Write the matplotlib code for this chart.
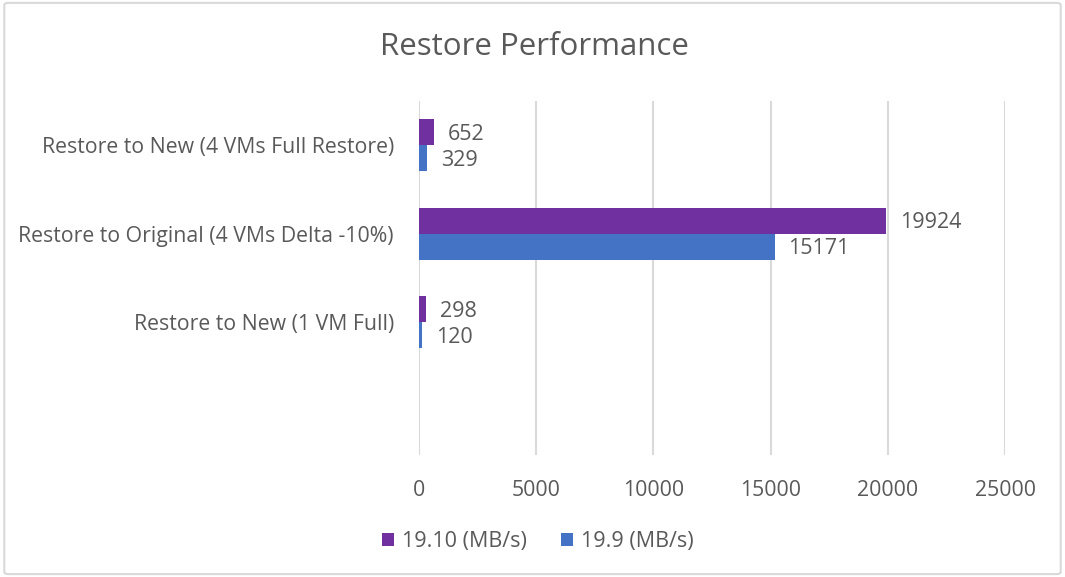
import numpy as np
import matplotlib.pyplot as plt
from matplotlib.patches import FancyBboxPatch

plt.rcParams['font.family'] = ['Open Sans', 'DejaVu Sans']

categories = ["Restore to New (4 VMs Full Restore)",
              "Restore to Original (4 VMs Delta -10%)",
              "Restore to New (1 VM Full)",
              ""]
v1910 = [652, 19924, 298, None]
v199 = [329, 15171, 120, None]
series_names = ["19.10 (MB/s)", "19.9 (MB/s)"]
colors = ["#7030A0", "#4472C4"]
text_col = "#595959"

fig = plt.figure(figsize=(10.65, 5.77), dpi=100)
ax = fig.add_axes([0.3934, 0.2114, 0.5503, 0.6136])

n = len(categories)
y = np.arange(n)[::-1]  # top category first
h = 0.295

for vals, off, col, name in [(v1910, h / 2, colors[0], series_names[0]),
                             (v199, -h / 2, colors[1], series_names[1])]:
    ys = [yy + off for yy, v in zip(y, vals) if v is not None]
    vs = [v for v in vals if v is not None]
    ax.barh(ys, vs, height=h, color=col, label=name, zorder=3)
    for yy, v in zip(ys, vs):
        ax.annotate(str(v), (v, yy), xytext=(10, -1.5), textcoords='offset points',
                    va='center', ha='left', fontsize=15.5, color=text_col)

ax.set_xlim(0, 25000)
ax.set_ylim(-0.5, n - 0.5)
ax.set_xticks(np.arange(0, 25001, 5000))
ax.set_yticks(y)
ax.set_yticklabels(categories)
ax.tick_params(axis='both', length=0, labelsize=15.3, colors=text_col)
ax.tick_params(axis='x', pad=18)
ax.tick_params(axis='y', pad=18)
ax.grid(axis='x', color='#D9D9D9', linewidth=1.5, zorder=0)
for s in ax.spines.values():
    s.set_visible(False)

fig.text(0.5015, 0.918, "Restore Performance", ha='center', va='center',
         fontsize=22.5, color=text_col)

leg = fig.legend(loc='center', bbox_to_anchor=(0.505, 0.062), ncol=2, frameon=False,
                 fontsize=15.5, handlelength=0.55, handleheight=0.55,
                 handletextpad=0.35, columnspacing=1.6)
for t in leg.get_texts():
    t.set_color(text_col)

border = FancyBboxPatch((0.004, 0.005), 0.992, 0.99, boxstyle='round,pad=0,rounding_size=0.004',
                        transform=fig.transFigure, fill=False, edgecolor='#D9D9D9',
                        linewidth=1.5)
fig.patches.append(border)

fig.savefig('out.png', dpi=100, facecolor='white')
